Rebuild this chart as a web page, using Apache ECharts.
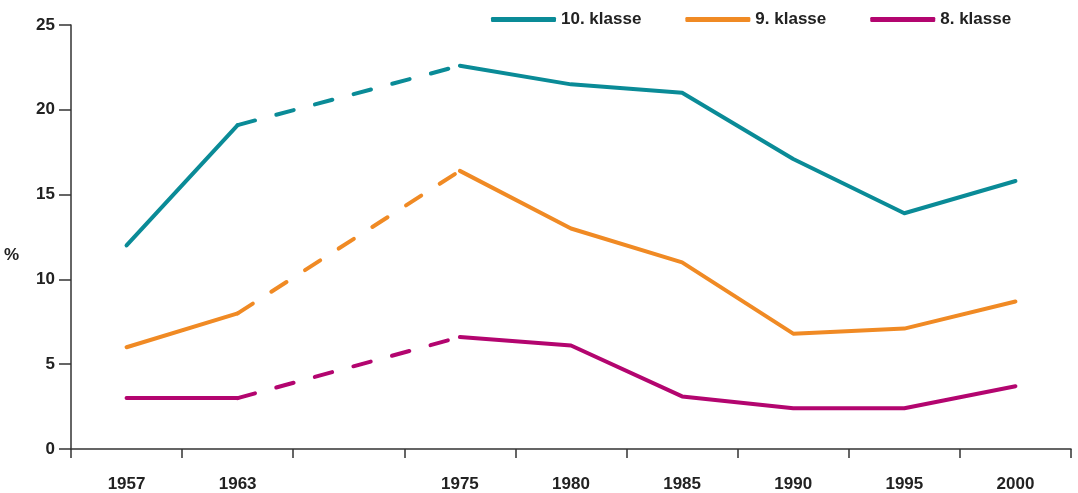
<!DOCTYPE html>
<html>
<head>
<meta charset="utf-8">
<script src="https://cdn.jsdelivr.net/npm/echarts@6/dist/echarts.min.js"></script>
<style>html,body{margin:0;padding:0;background:#fff}#c{width:1078px;height:493px}</style>
</head>
<body>
<div id="c"></div>
<script>
// Data
const categories = ['1957', '1963', '', '1975', '1980', '1985', '1990', '1995', '2000'];
const seriesNames = ['10. klasse', '9. klasse', '8. klasse'];
const klasse10 = [12.0, 19.1, null, 22.6, 21.5, 21.0, 17.1, 13.9, 15.8];
const klasse9  = [6.0, 8.0, null, 16.4, 13.0, 11.0, 6.8, 7.1, 8.7];
const klasse8  = [3.0, 3.0, null, 6.6, 6.1, 3.1, 2.4, 2.4, 3.7];
const yTicks = [0, 5, 10, 15, 20, 25];
// index range drawn dashed (1963 -> 1975)
const dashedFrom = 1, dashedTo = 3;

const colors = ['#0a8b97', '#f08a24', '#b3056f'];
const font = 'Liberation Sans, Arial, sans-serif';

function dashedPart(arr) {
  return arr.map((v, i) => (i === dashedFrom || i === dashedTo) ? v : null);
}

const allData = [klasse10, klasse9, klasse8];
const series = [];
allData.forEach((d, k) => {
  series.push({
    name: seriesNames[k], type: 'line', data: d, connectNulls: false,
    symbol: 'none', silent: true,
    lineStyle: { color: colors[k], width: 4, cap: 'round', join: 'round' },
    itemStyle: { color: colors[k] }, z: 3
  });
  series.push({
    name: seriesNames[k], type: 'line', data: dashedPart(d), connectNulls: true,
    symbol: 'none', silent: true,
    lineStyle: { color: colors[k], width: 4, type: [18, 22], cap: 'round' },
    itemStyle: { color: colors[k] }, z: 3
  });
});

const chart = echarts.init(document.getElementById('c'), null, { renderer: 'canvas' });
chart.setOption({
  animation: false,
  backgroundColor: '#ffffff',
  grid: { left: 71, right: 7, top: 25, bottom: 43, containLabel: false },
  legend: {
    data: seriesNames.map((n, k) => ({ name: n, icon: 'roundRect', itemStyle: { color: colors[k] } })),
    left: 486, top: 6, itemWidth: 65, itemHeight: 5, itemGap: 44,
    textStyle: { fontFamily: font, fontWeight: 'bold', fontSize: 17, color: '#222' },
    selectedMode: false
  },
  xAxis: {
    type: 'category', data: categories, boundaryGap: true,
    axisLine: { lineStyle: { color: '#333', width: 1.5 } },
    axisTick: { show: true, length: 9, interval: 0, lineStyle: { color: '#333', width: 1.5 } },
    axisLabel: { interval: 0, margin: 27, fontFamily: font, fontWeight: 'bold', fontSize: 17, color: '#222' },
    splitLine: { show: false }
  },
  yAxis: {
    type: 'value', min: 0, max: 25, interval: 5,
    name: '%', nameLocation: 'middle', nameRotate: 0, nameGap: 52,
    nameTextStyle: { fontFamily: font, fontWeight: 'bold', fontSize: 17, color: '#222', verticalAlign: 'top', padding: [10, 0, 0, 0] },
    axisLine: { show: true, lineStyle: { color: '#333', width: 1.5 } },
    axisTick: { show: true, length: 12, lineStyle: { color: '#333', width: 1.5 } },
    axisLabel: { margin: 16, fontFamily: font, fontWeight: 'bold', fontSize: 17, color: '#222',
      formatter: v => yTicks.includes(v) ? String(v) : '' },
    splitLine: { show: false }
  },
  series: series
});
</script>
</body>
</html>
